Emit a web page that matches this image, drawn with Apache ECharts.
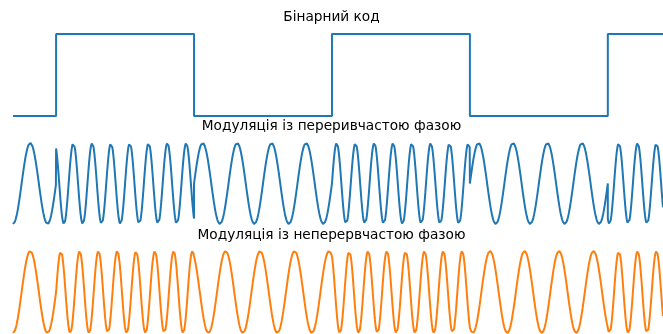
<!DOCTYPE html>
<html>
<head>
<meta charset="utf-8">
<script src="https://cdn.jsdelivr.net/npm/echarts@6/dist/echarts.min.js"></script>
<style>
  html, body { margin: 0; padding: 0; background: #fff; }
  #chart { width: 663px; height: 334px; }
</style>
</head>
<body>
<div id="chart"></div>
<script>
// біти, по одному на інтервал [k, k+1)
const bits = [0, 1, 0, 1, 0, 1]
const titles = ['Бінарний код', 'Модуляція із переривчастою фазою', 'Модуляція із неперервчастою фазою']
// видимий відрізок часу (в тривалостях біта)
const tStart = 0.6875
const tEnd = 5.4
// частоти (періодів на біт)
const f0 = 4
const f1 = 22 / 3
const dt = 0.0005

const freq = b => (b ? f1 : f0)

// бінарний сигнал
let binary = []
for (let k = 0; k < bits.length; k++) {
  let a = Math.max(k, tStart), b = Math.min(k + 1, tEnd)
  if (b <= a) continue
  binary.push([a, bits[k]], [b, bits[k]])
}

// модульовані сигнали
let discont = [], cont = []
for (let k = 0; k < bits.length; k++) {
  let a = Math.max(k, tStart), b = Math.min(k + 1, tEnd)
  if (b <= a) continue
  // накопичена фаза до початку біта
  let ph = 0
  for (let j = 0; j < k; j++) ph += freq(bits[j])
  let f = freq(bits[k])
  for (let t = a; t < b + dt / 2; t += dt) {
    let tt = Math.min(t, b)
    discont.push([tt, Math.sin(2 * Math.PI * f * tt)])
    cont.push([tt, Math.sin(2 * Math.PI * (ph + f * (tt - k)))])
  }
}

const tops = [34, 143, 251]
const heights = [82, 81, 82]
const titleTops = [10, 119, 228]

let grids = [], xAxes = [], yAxes = []
for (let i = 0; i < 3; i++) {
  grids.push({ left: 13, right: 0, top: tops[i], height: heights[i] })
  xAxes.push({ type: 'value', gridIndex: i, min: tStart, max: tEnd, show: false })
  yAxes.push({
    type: 'value', gridIndex: i,
    min: i === 0 ? 0 : -1, max: 1, show: false
  })
}

const chart = echarts.init(document.getElementById('chart'), null, { renderer: 'canvas' })
chart.setOption({
  animation: false,
  backgroundColor: '#fff',
  title: titles.map((t, i) => ({
    text: t,
    left: 'center',
    top: titleTops[i],
    padding: 0,
    textStyle: { fontFamily: 'DejaVu Sans', fontSize: 13.7, fontWeight: 'normal', color: '#000' }
  })),
  grid: grids,
  xAxis: xAxes,
  yAxis: yAxes,
  series: [
    { type: 'line', xAxisIndex: 0, yAxisIndex: 0, data: binary, showSymbol: false, clip: false,
      lineStyle: { color: '#1f77b4', width: 2 } },
    { type: 'line', xAxisIndex: 1, yAxisIndex: 1, data: discont, showSymbol: false, clip: false,
      lineStyle: { color: '#1f77b4', width: 2 } },
    { type: 'line', xAxisIndex: 2, yAxisIndex: 2, data: cont, showSymbol: false, clip: false,
      lineStyle: { color: '#ff7f0e', width: 2 } }
  ]
})
</script>
</body>
</html>
